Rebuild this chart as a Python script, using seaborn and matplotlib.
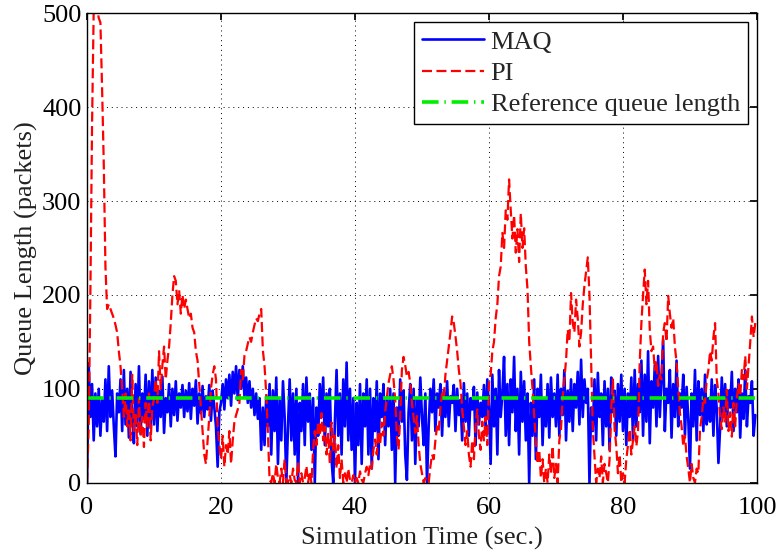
import numpy as np
import pandas as pd
import matplotlib
matplotlib.use("Agg")
import matplotlib.pyplot as plt
import seaborn as sns

# sample times (0.25 s step)
time_s = np.arange(0, 100, 0.25)

# MAQ queue length (packets), 20 samples per 5 s row
maq_queue = [
    0, 127, 70, 105, 45, 95, 60, 100, 50, 88, 65, 110, 55, 124, 70, 98, 60, 28, 95, 75,
    110, 55, 120, 62, 100, 48, 118, 70, 42, 105, 60, 124, 52, 95, 68, 115, 50, 108, 58, 120,
    62, 112, 55, 98, 70, 113, 53, 90, 75, 105, 60, 100, 72, 108, 66, 95, 80, 104, 70, 98,
    76, 106, 68, 100, 82, 109, 63, 95, 74, 103, 70, 92, 78, 104, 66, 98, 80, 60, 17, 75,
    85, 105, 78, 110, 90, 115, 82, 118, 95, 124, 88, 120, 100, 124, 92, 112, 85, 108, 80, 100,
    72, 95, 68, 90, 35, 80, 40, 92, 60, 105, 30, 98, 55, 112, 20, 88, 45, 108, 70, 0,
    60, 110, 45, 95, 30, 100, 0, 85, 55, 105, 40, 112, 65, 95, 35, 90, 0, 80, 50, 105,
    70, 112, 40, 95, 60, 100, 25, 0, 65, 120, 50, 95, 30, 110, 60, 128, 45, 100, 35, 90,
    0, 85, 40, 105, 20, 95, 60, 110, 30, 100, 15, 90, 55, 108, 25, 95, 70, 105, 40, 88,
    60, 100, 35, 95, 0, 80, 50, 110, 65, 98, 30, 3, 75, 105, 45, 100, 20, 90, 60, 112,
    70, 40, 95, 0, 60, 100, 75, 110, 55, 95, 80, 105, 50, 98, 70, 108, 60, 92, 85, 104,
    55, 100, 72, 88, 45, 106, 65, 95, 50, 90, 78, 102, 40, 96, 62, 85, 70, 104, 58, 110,
    80, 20, 115, 60, 100, 30, 120, 70, 95, 134, 50, 105, 40, 110, 75, 134, 55, 100, 30, 118,
    65, 108, 45, 95, 0, 85, 50, 110, 25, 100, 70, 115, 40, 90, 60, 105, 48, 112, 70, 95,
    60, 115, 50, 100, 72, 120, 45, 98, 65, 110, 55, 105, 80, 118, 62, 131, 70, 110, 85, 100,
    0, 80, 55, 110, 45, 117, 70, 95, 40, 108, 60, 100, 35, 112, 75, 98, 50, 105, 65, 115,
    55, 100, 40, 95, 70, 112, 45, 120, 60, 105, 75, 130, 50, 115, 65, 140, 42, 108, 80, 125,
    60, 135, 70, 110, 152, 55, 100, 85, 120, 48, 105, 70, 130, 60, 95, 80, 115, 50, 102, 68,
    15, 95, 60, 120, 45, 108, 72, 100, 55, 115, 62, 90, 65, 110, 50, 104, 78, 21, 58, 112,
    70, 105, 60, 98, 80, 118, 55, 100, 75, 110, 48, 95, 68, 120, 60, 92, 85, 108, 50, 72,
]

# PI queue length (packets)
pi_queue = [
    0, 60, 200, 380, 505, 510, 505, 495, 490, 420, 340, 230, 185, 190, 185, 180, 175, 168, 160, 140,
    124, 100, 70, 95, 60, 80, 45, 115, 55, 75, 40, 90, 50, 70, 38, 85, 60, 95, 45, 80,
    90, 110, 85, 140, 100, 125, 145, 110, 130, 145, 170, 200, 220, 215, 190, 205, 180, 200, 185, 195,
    185, 175, 180, 165, 160, 140, 130, 105, 80, 55, 30, 20, 45, 70, 100, 115, 124, 110, 60, 40,
    25, 50, 17, 40, 30, 55, 20, 45, 65, 72, 78, 85, 120, 110, 135, 140, 148, 155, 150, 160,
    168, 175, 172, 180, 185, 141, 124, 95, 53, 3, 0, 10, 0, 20, 5, 0, 15, 0, 25, 0,
    0, 8, 0, 15, 3, 0, 22, 0, 10, 0, 5, 18, 0, 12, 0, 35, 55, 40, 65, 50,
    74, 45, 60, 30, 52, 20, 64, 35, 50, 15, 40, 5, 25, 0, 10, 0, 15, 3, 0, 8,
    0, 5, 0, 12, 3, 0, 10, 17, 8, 20, 15, 35, 46, 30, 55, 40, 64, 50, 75, 90,
    106, 115, 124, 110, 89, 50, 35, 70, 120, 134, 125, 113, 118, 106, 85, 70, 53, 71, 40, 20,
    10, 0, 5, 0, 0, 17, 30, 25, 45, 60, 55, 80, 95, 90, 115, 130, 145, 160, 177, 170,
    156, 140, 120, 106, 78, 60, 40, 55, 30, 17, 45, 25, 60, 78, 50, 35, 65, 45, 70, 40,
    106, 115, 140, 150, 175, 190, 220, 230, 266, 250, 290, 280, 323, 290, 260, 285, 245, 270, 235, 287,
    250, 271, 230, 206, 150, 124, 100, 71, 43, 20, 35, 5, 25, 0, 15, 0, 30, 10, 39, 5,
    20, 0, 45, 57, 90, 110, 130, 163, 150, 202, 170, 160, 195, 175, 145, 160, 190, 210, 225, 240,
    200, 128, 57, 28, 0, 15, 5, 28, 0, 20, 10, 0, 25, 80, 110, 57, 39, 10, 30, 0,
    10, 0, 25, 40, 57, 30, 45, 60, 39, 55, 128, 170, 200, 227, 190, 215, 163, 140, 145, 120,
    130, 103, 115, 110, 160, 170, 150, 199, 180, 165, 175, 145, 128, 100, 75, 60, 39, 50, 28, 15,
    0, 20, 5, 0, 15, 10, 57, 70, 90, 85, 110, 120, 140, 130, 155, 170, 110, 95, 70, 57,
    80, 65, 99, 55, 75, 49, 85, 60, 90, 105, 92, 120, 110, 135, 100, 125, 150, 177, 155, 170,
]

ref_time = [0, 100]
ref_queue = [90, 90]

sns.set_theme(style="white")
plt.rcParams['font.family'] = ['Liberation Serif', 'DejaVu Serif']

fig = plt.figure(figsize=(7.79, 5.51), dpi=100)
ax = fig.add_axes([0.1117, 0.124, 0.86, 0.852])

sns.lineplot(x=time_s, y=maq_queue, ax=ax, color='#0000ff', linewidth=1.9,
             estimator=None, sort=False, label='MAQ')
sns.lineplot(x=time_s, y=pi_queue, ax=ax, color='#ff0000', linewidth=1.6,
             estimator=None, sort=False, label='PI', linestyle='--')
sns.lineplot(x=ref_time, y=ref_queue, ax=ax, color='#00ee00', linewidth=2.6,
             estimator=None, sort=False, label='Reference queue length')
ax.lines[1].set_dashes((4.5, 2.0))
ax.lines[2].set_dashes((4.6, 1.6, 0.4, 1.6))

ax.set_xlim(0, 100)
ax.set_ylim(0, 500)
ax.set_xticks([0, 20, 40, 60, 80, 100])
ax.set_yticks([0, 100, 200, 300, 400, 500])
ax.grid(True, linestyle=(0, (1, 4)), color='black', linewidth=0.7)
ax.tick_params(direction='in', length=5, top=True, right=True, labelsize=19,
               colors='black')
ax.tick_params(axis='x', pad=10)
ax.tick_params(axis='y', pad=4)
for sp in ax.spines.values():
    sp.set_color('black')
    sp.set_linewidth(1.0)

ax.set_xlabel('Simulation Time (sec.)', fontsize=19, color='#222222', labelpad=6)
ax.set_ylabel('Queue Length (packets)', fontsize=19, color='#222222', labelpad=3)

leg = ax.legend(loc='upper right', fontsize=19, frameon=True, fancybox=False,
                edgecolor='black', framealpha=1, handlelength=2.35, handletextpad=0.27,
                borderpad=0.3, labelspacing=0.3, borderaxespad=0.34)
leg.get_frame().set_linewidth(1.0)

fig.savefig('out.png', dpi=100)
